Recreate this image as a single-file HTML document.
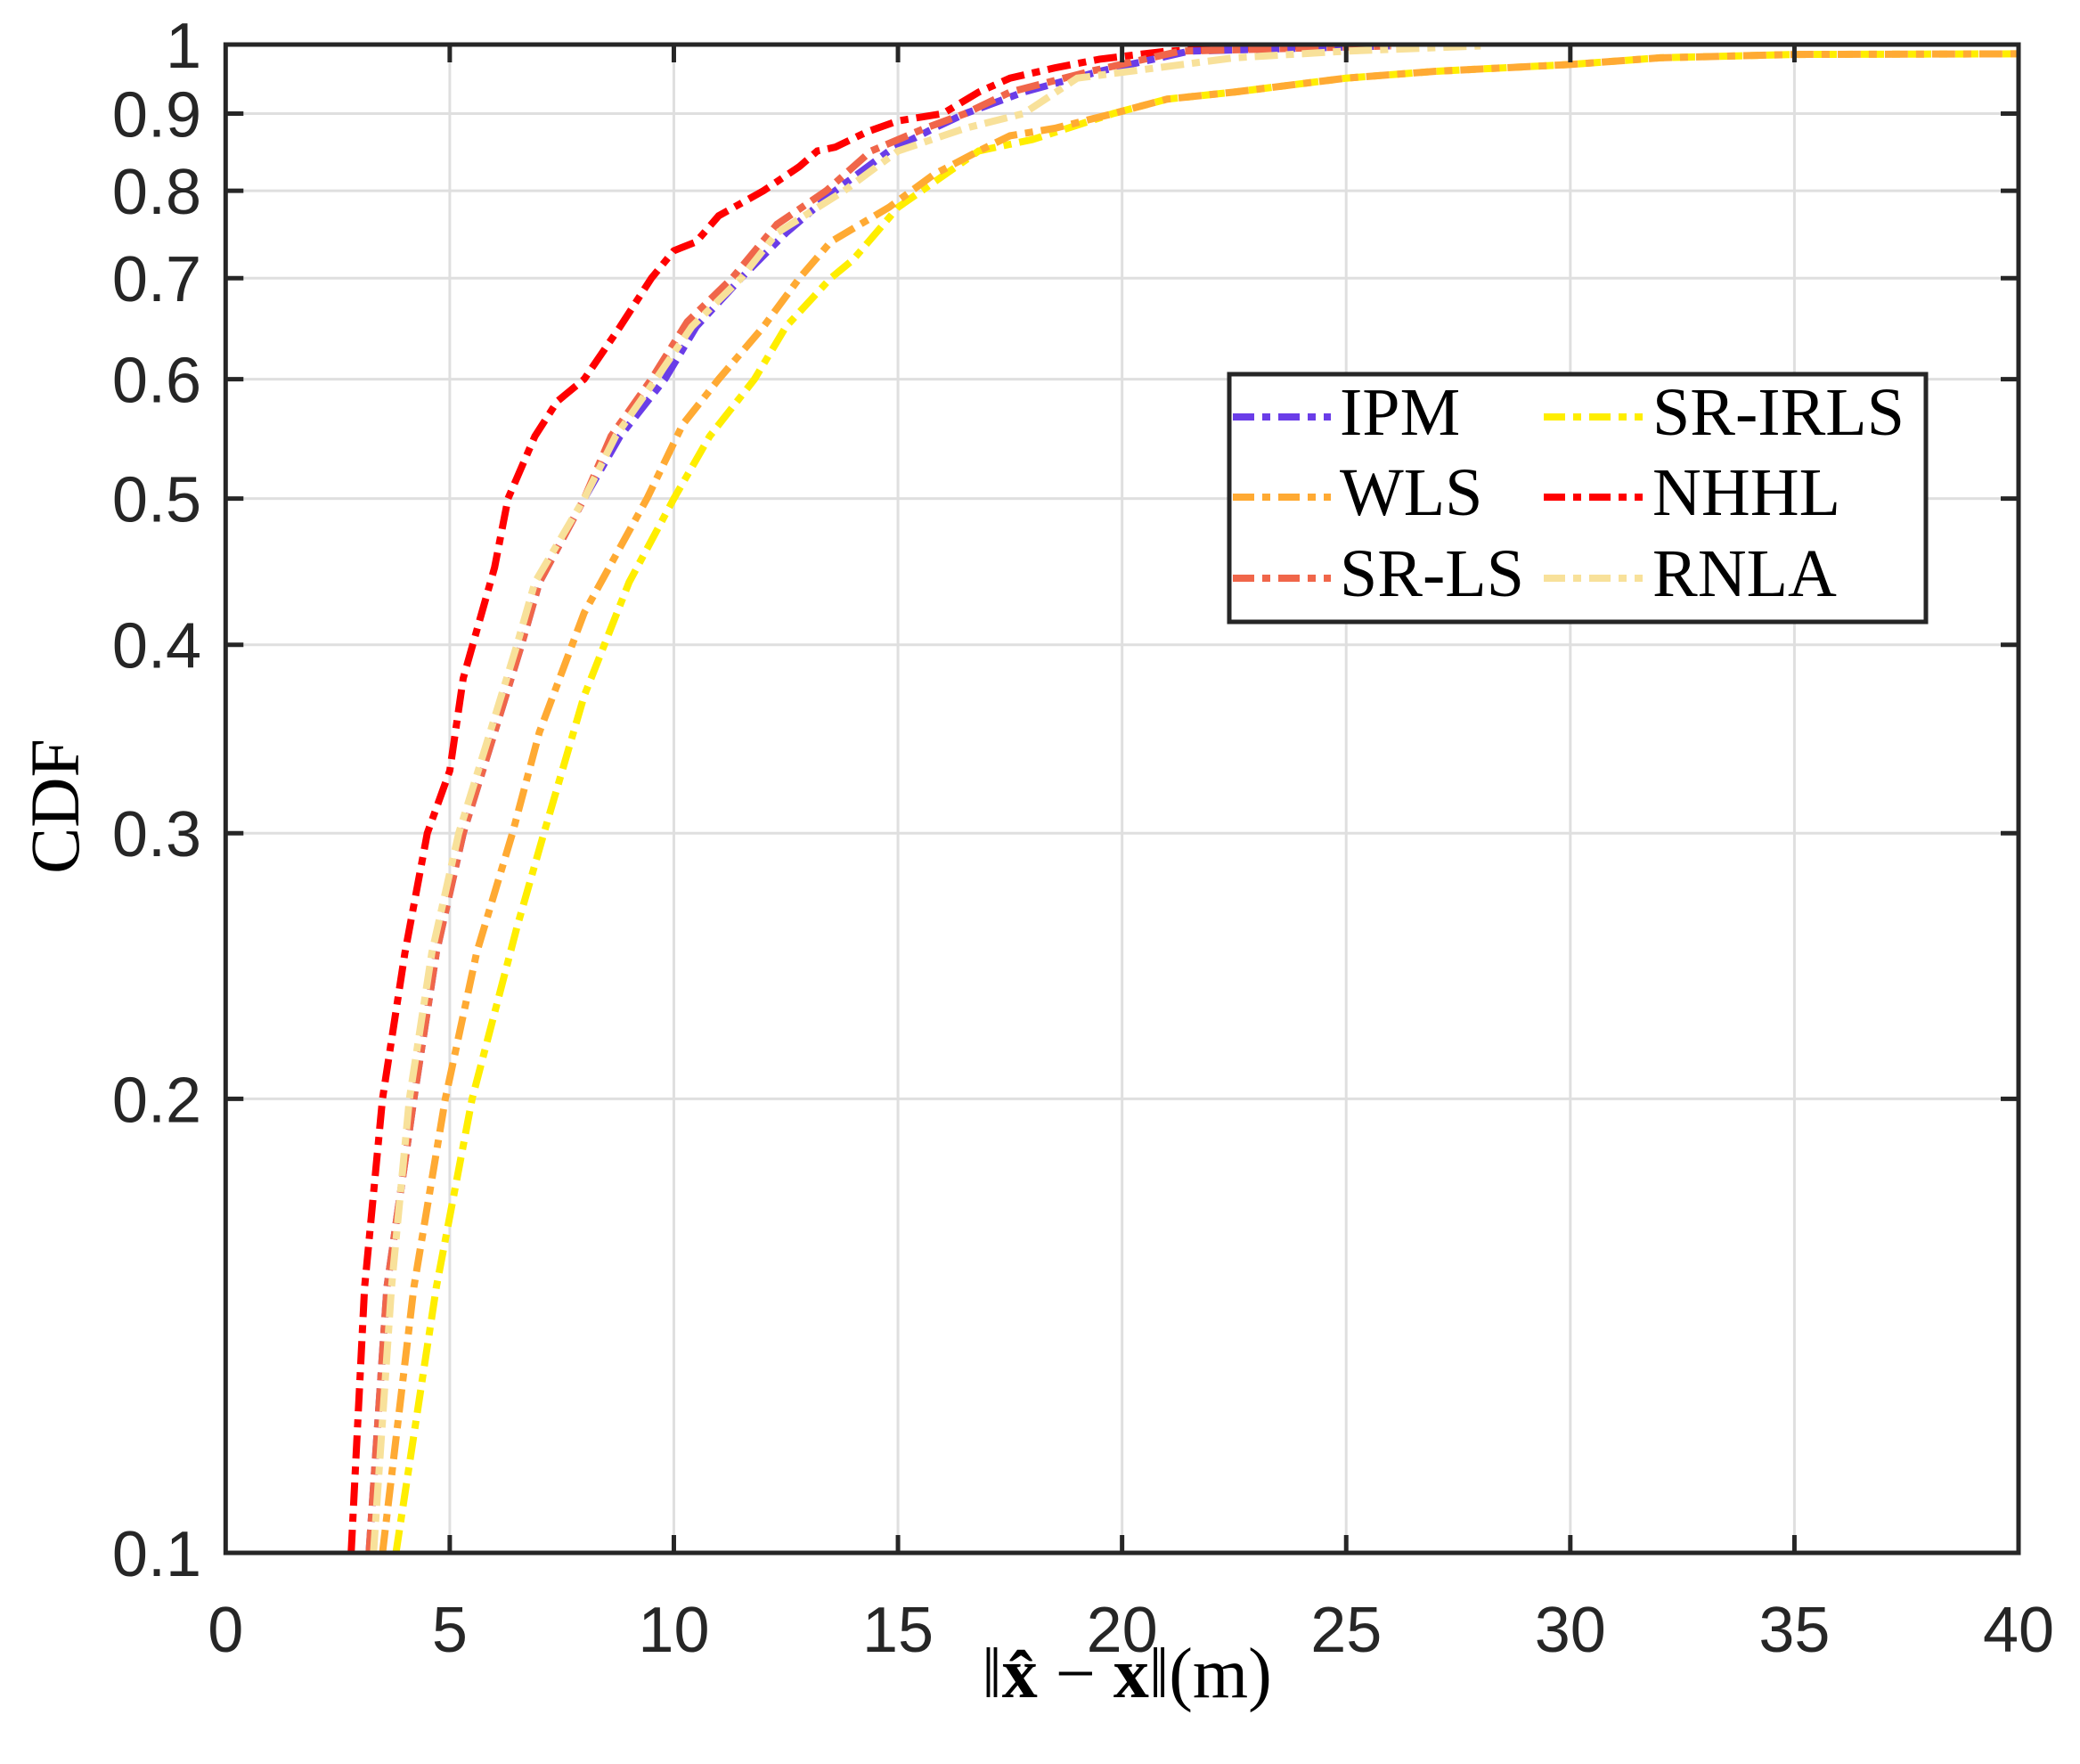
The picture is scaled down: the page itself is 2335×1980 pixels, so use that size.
<!DOCTYPE html>
<html><head><meta charset="utf-8"><style>
html,body{margin:0;padding:0;background:#fff;}
svg{display:block;}
.tk{font-family:"Liberation Sans",Arial,sans-serif;font-size:72px;fill:#262626;}
.sf{font-family:"Liberation Serif","DejaVu Serif",serif;fill:#000;}
</style></head><body>
<svg id="s" width="2335" height="1980" xmlns="http://www.w3.org/2000/svg">
<rect width="2335" height="1980" fill="#fff"/>
<g id="grid" stroke="#dfdfdf" stroke-width="3"></g>
<g id="curves" fill="none" stroke-width="8" stroke-dasharray="26,9,9,9"></g>
<g id="axes" stroke="#262626" stroke-width="5" fill="none"></g>
<g id="lbl"></g>
<text class="sf" x="1265" y="1905" font-size="80" text-anchor="middle">‖<tspan font-weight="bold">x̂</tspan> − <tspan font-weight="bold">x</tspan>‖(m)</text>
<text class="sf" x="0" y="0" font-size="78" text-anchor="middle" transform="translate(88,905) rotate(-90)">CDF</text>
<g>
<rect x="1380" y="420" width="782" height="278" fill="#fff" stroke="#262626" stroke-width="5"/>
<g stroke-width="8" stroke-dasharray="24,9,9,9">
<line x1="1384" y1="468" x2="1494" y2="468" stroke="#6a3de8"/>
<line x1="1384" y1="558" x2="1494" y2="558" stroke="#ffaa33"/>
<line x1="1384" y1="649" x2="1494" y2="649" stroke="#f0664a"/>
<line x1="1733" y1="468" x2="1844" y2="468" stroke="#ffee00"/>
<line x1="1733" y1="558" x2="1844" y2="558" stroke="#ff0000"/>
<line x1="1733" y1="649" x2="1844" y2="649" stroke="#f8e19a"/>
</g>
<g class="sf" font-size="76">
<text x="1504" y="488">IPM</text>
<text x="1504" y="578">WLS</text>
<text x="1504" y="669">SR-LS</text>
<text x="1855" y="488">SR-IRLS</text>
<text x="1855" y="578">NHHL</text>
<text x="1855" y="669">RNLA</text>
</g>
</g>
</svg>
<script>
var L=253.3,R=2266,T=50,B=1743;
function X(v){return L+(R-L)*v/40;}
function Y(c){return T+(B-T)*(-Math.log10(c));}
var ns="http://www.w3.org/2000/svg";
function el(p,t,a,txt){var e=document.createElementNS(ns,t);for(var k in a)e.setAttribute(k,a[k]);if(txt!==undefined)e.textContent=txt;document.getElementById(p).appendChild(e);return e;}
var yt=[0.1,0.2,0.3,0.4,0.5,0.6,0.7,0.8,0.9,1];
for(var i=5;i<40;i+=5)el("grid","line",{x1:X(i),x2:X(i),y1:T,y2:B});
yt.forEach(function(c){if(c>0.1&&c<1)el("grid","line",{x1:L,x2:R,y1:Y(c),y2:Y(c)});});
var data={
"#ff0000":[[2.8,.1],[3.1,.15],[3.5,.2],[4.0,.25],[4.5,.3],[5.0,.33],[5.3,.38],[6.0,.45],[6.3,.5],[6.9,.55],[7.4,.58],[8.0,.6],[8.8,.65],[9.5,.7],[10,.73],[10.5,.74],[11,.77],[12,.8],[12.8,.83],[13.2,.85],[13.6,.855],[14.3,.875],[15,.89],[16,.9],[16.8,.93],[17.5,.95],[18.5,.965],[19.5,.978],[21,.99],[24,.998]],
"#ffee00":[[3.8,.1],[4.7,.15],[5.5,.2],[6.5,.26],[7.1,.3],[8,.37],[9,.44],[10,.5],[10.8,.55],[11.8,.6],[12.5,.65],[13.5,.7],[14,.72],[15,.78],[16.8,.85],[18,.865],[19.8,.9],[21,.92],[22.5,.93],[25,.95],[27,.96],[30,.97],[32,.98],[35,.985],[40,.986]],
"#ffaa33":[[3.5,.1],[4.2,.15],[4.9,.2],[5.6,.25],[6.4,.3],[7,.35],[8,.42],[9.4,.5],[10.2,.56],[11,.6],[12,.65],[12.8,.7],[13.5,.74],[14.8,.78],[15.8,.82],[16.8,.85],[17.5,.87],[18.5,.88],[19.8,.9],[21,.92],[22.5,.93],[25,.95],[27,.96],[30,.97],[32,.98],[35,.985],[40,.986]],
"#6a3de8":[[3.2,.1],[3.6,.15],[4.2,.2],[4.7,.25],[5.3,.3],[6,.35],[6.6,.4],[7,.44],[8,.5],[8.8,.55],[9.8,.6],[10.5,.65],[11.5,.7],[12.5,.75],[13.6,.8],[14.8,.85],[15.8,.88],[16.5,.9],[17.8,.93],[19.5,.96],[21.5,.99],[26,.998]],
"#f0664a":[[3.2,.1],[3.6,.15],[4.2,.2],[4.7,.25],[5.3,.3],[6,.35],[6.6,.4],[7,.44],[8,.5],[8.6,.55],[9.5,.6],[10.3,.655],[11.3,.7],[12.3,.76],[13.4,.8],[14.4,.85],[15.6,.88],[16.5,.9],[17.5,.93],[19.3,.96],[21.3,.99],[26,.998]],
"#f8e19a":[[3.3,.1],[3.7,.15],[4.1,.2],[4.6,.25],[5.2,.3],[5.9,.35],[6.5,.4],[6.9,.44],[8,.5],[8.7,.55],[9.6,.6],[10.4,.65],[11.5,.7],[12.3,.75],[13.8,.8],[15,.85],[16.5,.88],[17.8,.9],[19,.95],[22.5,.98],[25,.99],[28,.998]]};
for(var col in data){var d="";data[col].forEach(function(p,i){d+=(i?"L":"M")+X(p[0]).toFixed(1)+" "+Y(p[1]).toFixed(1)+" ";});el("curves","path",{d:d,stroke:col});}
el("axes","rect",{x:L,y:T,width:R-L,height:B-T});
for(var i=5;i<40;i+=5){el("axes","line",{x1:X(i),x2:X(i),y1:B,y2:B-20});el("axes","line",{x1:X(i),x2:X(i),y1:T,y2:T+20});}
yt.forEach(function(c){el("axes","line",{x1:L,x2:L+20,y1:Y(c),y2:Y(c)});el("axes","line",{x1:R,x2:R-20,y1:Y(c),y2:Y(c)});
el("lbl","text",{"class":"tk",x:226,y:Y(c)+26,"text-anchor":"end"},c===1?"1":String(c));});
for(var i=0;i<=40;i+=5)el("lbl","text",{"class":"tk",x:X(i),y:1854,"text-anchor":"middle"},String(i));
</script>
</body></html>
